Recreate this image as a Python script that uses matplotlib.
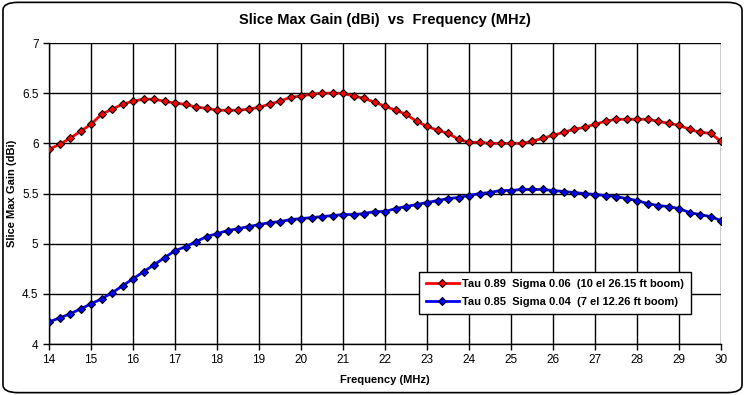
# Import libraries
import numpy as np
import matplotlib
matplotlib.use("Agg")
import matplotlib.pyplot as plt
from matplotlib.patches import FancyBboxPatch

plt.rcParams["font.family"] = ["Liberation Sans", "DejaVu Sans"]

# Frequency points (MHz), 0.25 MHz steps
freq = np.arange(14, 30.001, 0.25)

# Tau 0.89 Sigma 0.06 (10 el)
gain_10el = [
    5.94, 5.99, 6.05, 6.12, 6.19, 6.29, 6.34, 6.39, 6.42, 6.44, 6.44, 6.42,
    6.40, 6.39, 6.36, 6.35, 6.33, 6.33, 6.33, 6.34, 6.36, 6.39, 6.42, 6.46,
    6.47, 6.49, 6.50, 6.50, 6.50, 6.47, 6.45, 6.41, 6.37, 6.33, 6.29, 6.22,
    6.17, 6.13, 6.10, 6.04, 6.01, 6.01, 6.00, 6.00, 6.00, 6.00, 6.02, 6.05,
    6.08, 6.11, 6.14, 6.16, 6.19, 6.22, 6.24, 6.24, 6.24, 6.24, 6.22, 6.20,
    6.18, 6.14, 6.11, 6.10, 6.02]

# Tau 0.85 Sigma 0.04 (7 el)
gain_7el = [
    4.22, 4.26, 4.30, 4.35, 4.40, 4.45, 4.51, 4.58, 4.65, 4.72, 4.79, 4.86,
    4.93, 4.97, 5.02, 5.07, 5.10, 5.13, 5.15, 5.17, 5.19, 5.21, 5.22, 5.24,
    5.25, 5.26, 5.27, 5.28, 5.29, 5.29, 5.30, 5.32, 5.32, 5.35, 5.37, 5.39,
    5.41, 5.43, 5.45, 5.46, 5.48, 5.50, 5.51, 5.53, 5.53, 5.54, 5.54, 5.54,
    5.53, 5.52, 5.51, 5.50, 5.49, 5.48, 5.47, 5.45, 5.43, 5.40, 5.38, 5.37,
    5.35, 5.31, 5.29, 5.27, 5.23]

labels = ["Tau 0.89  Sigma 0.06  (10 el 26.15 ft boom)",
          "Tau 0.85  Sigma 0.04  (7 el 12.26 ft boom)"]

# Create the figure
fig = plt.figure(figsize=(7.45, 3.95), dpi=100)
fig.patch.set_facecolor("white")

# Rounded chart border
border = FancyBboxPatch((0.004, 0.006), 0.992, 0.988,
                        boxstyle="round,pad=0,rounding_size=0.02",
                        transform=fig.transFigure, facecolor="none",
                        edgecolor="black", linewidth=1.2)
fig.patches.append(border)

ax = fig.add_axes([0.0658, 0.1291, 0.902, 0.762])

ax.plot(freq, gain_10el, color="#ff0000", linewidth=2, marker="D",
        markersize=4.5, markerfacecolor="#ff0000", markeredgecolor="black",
        markeredgewidth=0.8, label=labels[0], zorder=3)
ax.plot(freq, gain_7el, color="#0000ff", linewidth=2, marker="D",
        markersize=4.5, markerfacecolor="#0000ff", markeredgecolor="black",
        markeredgewidth=0.8, label=labels[1], zorder=3)

ax.set_xlim(14, 30)
ax.set_ylim(4, 7)
ax.set_xticks(range(14, 31))
ax.set_yticks([4, 4.5, 5, 5.5, 6, 6.5, 7])
ax.set_yticklabels(["4", "4.5", "5", "5.5", "6", "6.5", "7"])
ax.grid(True, color="black", linewidth=1)
ax.set_axisbelow(True)
ax.tick_params(direction="out", length=4, width=1, labelsize=8.5, colors="black")
for spine in ax.spines.values():
    spine.set_color("black")
    spine.set_linewidth(1)
ax.spines["top"].set_visible(False)
ax.spines["right"].set_visible(False)

ax.set_title("Slice Max Gain (dBi)  vs  Frequency (MHz)", fontsize=10.5,
             fontweight="bold", pad=14)
ax.set_xlabel("Frequency (MHz)", fontsize=8, fontweight="bold", labelpad=6)
ax.set_ylabel("Slice Max Gain (dBi)", fontsize=8, fontweight="bold")
ax.yaxis.set_label_coords(-0.047, 0.5)

leg = ax.legend(loc="upper left", bbox_to_anchor=(0.5506, 0.239),
                borderaxespad=0, prop={"weight": "bold", "size": 8},
                frameon=True, fancybox=False, framealpha=1, edgecolor="black",
                handlelength=3, handletextpad=0.3, borderpad=0.6,
                labelspacing=0.75)
leg.get_frame().set_linewidth(1)

# Save the plot
plt.savefig("out.png", dpi=100)
